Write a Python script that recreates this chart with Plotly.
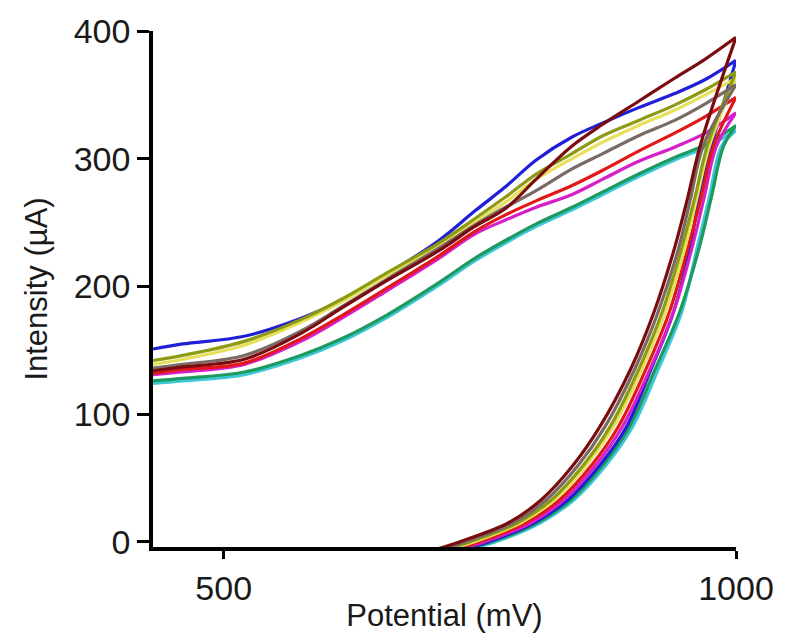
import plotly.graph_objects as go

# ---- data ----
series_names = ["cyan", "green", "blue", "magenta", "red", "yellow", "olive", "gray", "maroon"]
series_colors = ["#3cc8d8", "#1f9a5e", "#1f1fd8", "#d81ec8", "#e01818", "#e6e05a", "#8c9a14", "#7a6a66", "#7a0c10"]

# upper (return) branch, potential grid in mV
upper_x = [431, 460, 520, 575, 615, 660, 710, 745, 775, 805, 840, 870, 905, 940, 970, 1000]
upper_y = {
    "cyan":    [124, 126, 131, 144, 157, 176, 201, 220, 234, 247, 260, 272, 286, 299, 309, 322],
    "blue":    [151, 155, 161, 175, 189, 210, 236, 259, 278, 299, 317, 328, 340, 351, 362, 377],
    "green":   [126, 128, 133, 146, 159, 178, 203, 222, 236, 249, 262, 274, 288, 301, 311, 326],
    "magenta": [131, 133, 139, 157, 175, 197, 222, 241, 252, 262, 272, 284, 298, 309, 320, 336],
    "red":     [132, 135, 140, 159, 177, 199, 224, 243, 256, 267, 279, 291, 306, 320, 333, 348],
    "yellow":  [139, 143, 154, 172, 188, 209, 232, 250, 266, 284, 300, 313, 326, 338, 350, 363],
    "olive":   [142, 146, 157, 174, 190, 211, 234, 253, 270, 288, 304, 318, 330, 342, 354, 368],
    "gray":    [136, 139, 146, 165, 184, 206, 230, 248, 262, 275, 292, 304, 318, 330, 343, 358],
    "maroon":  [134, 137, 143, 163, 183, 205, 228, 247, 261, 284, 310, 327, 345, 363, 378, 395],
}

# lower (forward) branch, current levels in uA, potential per series in mV
lower_levels = [-10, 0, 15, 33, 60, 90, 135, 180, 230, 270, 310]
lower_x = {
    "cyan":    [718, 765, 809, 842, 873, 899, 924, 947, 962, 974, 986],
    "green":   [714, 761, 806, 839, 870, 896, 921, 945, 964, 976, 988],
    "blue":    [712, 758, 803, 836, 867, 893, 917, 939, 955, 964, 976],
    "magenta": [710, 754, 800, 832, 863, 889, 916, 939, 957, 969, 981],
    "red":     [705, 749, 795, 828, 859, 885, 912, 935, 953, 966, 978],
    "yellow":  [701, 744, 790, 823, 854, 880, 908, 931, 950, 962, 974],
    "olive":   [698, 740, 787, 820, 851, 877, 905, 928, 947, 960, 972],
    "gray":    [694, 735, 783, 815, 846, 872, 901, 924, 944, 956, 968],
    "maroon":  [690, 730, 778, 810, 841, 867, 897, 920, 940, 953, 965],
}

y_ticks = [0, 100, 200, 300, 400]
x_ticks = [500, 1000]

FONT = "Liberation Sans, Arial, sans-serif"
TXT = "#1a1a1a"

fig = go.Figure()
for name, color in zip(series_names, series_colors):
    ux = upper_x
    uy = upper_y[name]
    lx = lower_x[name] + [ux[-1]]
    ly = lower_levels + [uy[-1]]
    fig.add_trace(go.Scatter(x=lx, y=ly, mode="lines",
                             line=dict(color=color, width=3.2, shape="spline", smoothing=1.0),
                             legendgroup=name, showlegend=False, hoverinfo="skip"))
    fig.add_trace(go.Scatter(x=ux, y=uy, mode="lines",
                             line=dict(color=color, width=3.2, shape="spline", smoothing=1.0),
                             legendgroup=name, showlegend=False, hoverinfo="skip"))

fig.update_layout(
    width=786, height=644,
    margin=dict(l=153, r=48, t=27, b=97),
    plot_bgcolor="white", paper_bgcolor="white",
    showlegend=False,
    font=dict(family=FONT, color=TXT),
    xaxis=dict(
        range=[431, 1000], tickvals=x_ticks, ticks="outside", ticklen=8, tickwidth=3, tickcolor="black",
        showline=True, linewidth=3.5, linecolor="black", showgrid=False, zeroline=False,
        tickfont=dict(size=34, family=FONT, color=TXT),
        title=dict(text="Potential (mV)", font=dict(size=31, family=FONT, color=TXT), standoff=0),
    ),
    yaxis=dict(
        range=[-4, 400], tickvals=y_ticks, ticks="outside", ticklen=12, tickwidth=3, tickcolor="black",
        showline=True, linewidth=3.5, linecolor="black", showgrid=False, zeroline=False,
        tickfont=dict(size=34, family=FONT, color=TXT),
        title=dict(text="Intensity (µA)", font=dict(size=31, family=FONT, color=TXT), standoff=18),
    ),
)

fig.write_html("out.html")
